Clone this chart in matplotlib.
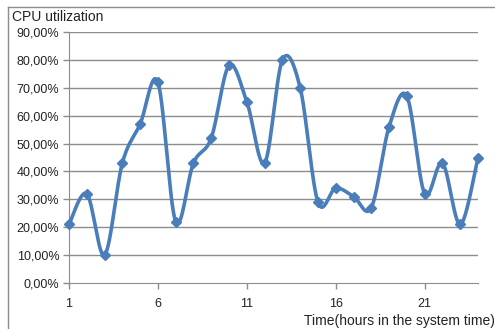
import numpy as np
import matplotlib
matplotlib.use("Agg")
import matplotlib.pyplot as plt
from matplotlib.lines import Line2D

hours = list(range(1, 25))
cpu = [21, 32, 10, 43, 57, 72, 22, 43, 52, 78, 65, 43,
       80, 70, 29, 34, 31, 27, 56, 67, 32, 43, 21, 45]
y_ticks = [0, 10, 20, 30, 40, 50, 60, 70, 80, 90]
x_ticks = [1, 6, 11, 16, 21]

LINE = "#4a7ebb"
GRID = "#8c8c8c"
TEXT = "#222222"


def smooth(x, y, n=30, tension=0.5):
    # catmull-rom style curve through every point, like Excel's smoothed line
    x = np.asarray(x, float)
    y = np.asarray(y, float)
    px = np.concatenate([[x[0]], x, [x[-1]]])
    py = np.concatenate([[y[0]], y, [y[-1]]])
    xs, ys = [], []
    t = np.linspace(0, 1, n)
    h00 = 2 * t**3 - 3 * t**2 + 1
    h10 = t**3 - 2 * t**2 + t
    h01 = -2 * t**3 + 3 * t**2
    h11 = t**3 - t**2
    for i in range(1, len(px) - 2):
        m1y = tension * (py[i + 1] - py[i - 1])
        m2y = tension * (py[i + 2] - py[i])
        m1x = tension * (px[i + 1] - px[i - 1])
        m2x = tension * (px[i + 2] - px[i])
        xs.append(h00 * px[i] + h10 * m1x + h01 * px[i + 1] + h11 * m2x)
        ys.append(h00 * py[i] + h10 * m1y + h01 * py[i + 1] + h11 * m2y)
    return np.concatenate(xs), np.concatenate(ys)


plt.rcParams["font.family"] = ["Liberation Sans", "DejaVu Sans"]

fig = plt.figure(figsize=(4.95, 3.29), dpi=100)
# chart frame, only top and left edges are inside the picture
fig.lines.append(Line2D([7.5 / 495, 1.0], [1 - 6.5 / 329] * 2,
                        transform=fig.transFigure, color="#8c8c8c", linewidth=1))
fig.lines.append(Line2D([7.5 / 495] * 2, [0.0, 1 - 6.5 / 329],
                        transform=fig.transFigure, color="#8c8c8c", linewidth=1))

ax = fig.add_axes([69 / 495, 1 - 283 / 329, 409 / 495, 251 / 329])

sx, sy = smooth(hours, cpu)
ax.plot(sx, sy, color=LINE, linewidth=2.6, solid_capstyle="round", zorder=3,
        clip_on=False)
ax.plot(hours, cpu, linestyle="none", marker="D", markersize=5.5,
        color=LINE, zorder=4, clip_on=False)

ax.set_xlim(1, 24)
ax.set_ylim(0, 90)
ax.set_yticks(y_ticks)
ax.set_yticklabels([f"{v},00%" for v in y_ticks])
ax.set_xticks(x_ticks)
ax.set_xticklabels([str(v) for v in x_ticks])

for v in y_ticks[1:]:
    ax.axhline(v, color=GRID, linewidth=1, zorder=1)

for side in ["top", "right"]:
    ax.spines[side].set_visible(False)
ax.spines["left"].set_color(GRID)
ax.spines["bottom"].set_color(GRID)
ax.tick_params(axis="both", colors=GRID, length=4, width=1, labelsize=9,
               labelcolor=TEXT)
ax.tick_params(axis="x", pad=7)
ax.tick_params(axis="y", pad=3)

fig.text(12 / 495, 1 - 17 / 329, "CPU utilization", fontsize=10,
         va="center", ha="left", color=TEXT)
fig.text(495 / 495, 1 - 321 / 329, "Time(hours in the system time)",
         fontsize=10, va="center", ha="right", color=TEXT)

fig.savefig("out.png", dpi=100)
